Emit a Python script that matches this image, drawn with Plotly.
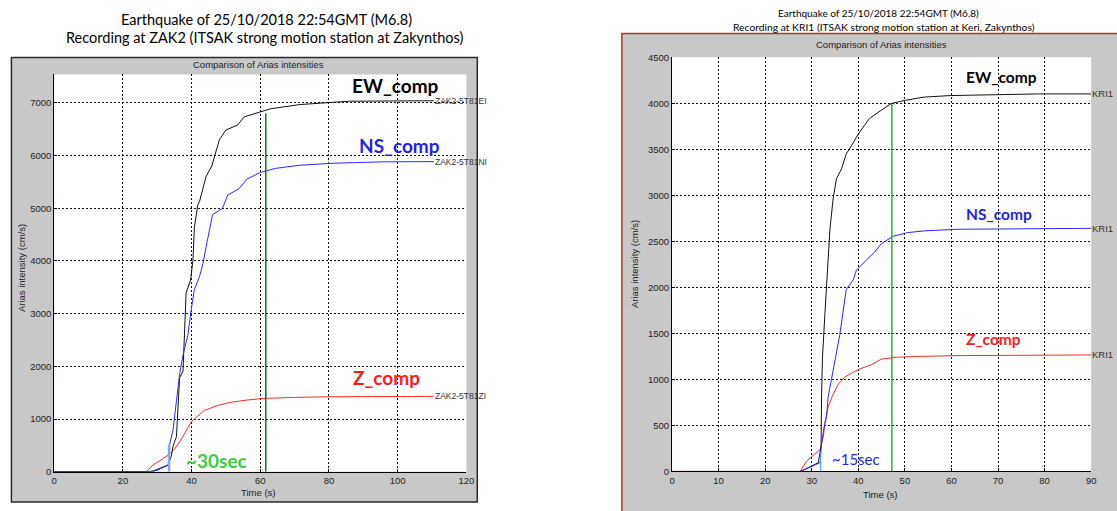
import plotly.graph_objects as go

W, H = 1117, 511

# ---- ZAK2 station: cumulative Arias intensity (cm/s) vs time (s) ----
zak_t_ew = [0, 27.5, 29.0, 31.0, 33.2, 34.1, 34.6, 35.6, 36.0, 36.5, 37.5, 38.0, 38.4, 39.7,
            40.4, 40.8, 41.8, 42.3, 44.2, 45.9, 46.9, 48.1, 50.0, 53.4, 55.3, 59.6, 63.0,
            71.6, 86.0, 110.5]
zak_v_ew = [0, 0, 20, 70, 130, 300, 483, 668, 1101, 1782, 1907, 2587, 3392, 3639,
            4010, 4629, 5063, 5124, 5600, 5806, 6053, 6300, 6485, 6578, 6734, 6827, 6888,
            6968, 7031, 7040]

zak_t_ns = [0, 28.5, 30.0, 33.2, 33.6, 34.6, 35.6, 36.5, 37.5, 38.9, 39.9, 40.8, 42.3, 43.3,
            44.2, 45.2, 46.1, 49.0, 50.5, 53.8, 56.2, 60.1, 64.4, 71.6, 81.2, 95.6, 110.5]
zak_v_ns = [0, 0, 30, 124, 514, 793, 1350, 1844, 2215, 2587, 3082, 3453, 3700, 3949,
            4257, 4567, 4877, 5000, 5249, 5371, 5557, 5681, 5756, 5817, 5854, 5880, 5885]

zak_t_z = [0, 26.9, 28.4, 33.2, 35.1, 37.5, 39.9, 43.7, 47.5, 51.4, 56.2, 61.0, 69.7, 81.2, 110.5]
zak_v_z = [0, 0, 111, 316, 433, 668, 947, 1164, 1257, 1318, 1361, 1392, 1411, 1424, 1430]

# time markers: [time, height]
zak_onset = [33.45, 520]
zak_end = [61.6, 6800]

zak_labels = ["ZAK2-5T81EI", "ZAK2-5T81NI", "ZAK2-5T81ZI"]

# ---- KRI1 station ----
kri_t_ew = [0, 27.7, 31.4, 32.0, 32.1, 32.3, 32.8, 33.5, 33.9, 34.6, 35.3, 36.4, 37.4, 38.9,
            39.9, 41.3, 42.4, 44.2, 47.0, 49.9, 54.1, 59.8, 68.3, 78.9, 90.0]
kri_v_ew = [0, 0, 96, 272, 805, 1231, 1691, 2223, 2630, 2968, 3181, 3290, 3450, 3571,
            3660, 3760, 3837, 3900, 3997, 4032, 4068, 4085, 4096, 4103, 4103]

kri_t_ns = [0, 27.5, 31.8, 32.1, 32.8, 33.2, 33.5, 34.3, 35.0, 36.0, 36.7, 37.4, 38.9, 39.6,
            41.7, 43.5, 44.9, 47.4, 50.6, 54.1, 61.2, 90.0]
kri_v_ns = [0, 0, 96, 309, 521, 593, 805, 1018, 1231, 1479, 1728, 1976, 2082, 2188,
            2295, 2383, 2472, 2555, 2596, 2614, 2632, 2642]

kri_t_z = [0, 27.5, 28.9, 31.8, 32.5, 32.8, 33.5, 34.6, 35.7, 37.1, 39.9, 42.8, 44.9, 48.1,
           52.0, 61.2, 90.0]
kri_v_z = [0, 0, 114, 238, 380, 521, 699, 840, 947, 1026, 1106, 1160, 1220, 1241,
           1249, 1259, 1266]

kri_onset = [31.9, 209]
kri_end = [47.2, 3997]

kri_label = "KRI1"

# tick values
zak_xticks = [0, 20, 40, 60, 80, 100, 120]
zak_yticks = [0, 1000, 2000, 3000, 4000, 5000, 6000, 7000]
kri_xticks = [0, 10, 20, 30, 40, 50, 60, 70, 80, 90]
kri_yticks = [0, 500, 1000, 1500, 2000, 2500, 3000, 3500, 4000, 4500]


def fx(p):
    return p / W


def fy(p):
    return 1 - p / H


AXFONT = dict(family="Liberation Sans, Arial, sans-serif", size=9.5, color="#222")
CAL = "Lato, Noto Sans, sans-serif"

fig = go.Figure()


def add_line(t, v, color, xa, ya, width=1):
    fig.add_trace(go.Scatter(x=t, y=v, mode="lines", line=dict(color=color, width=width),
                             xaxis=xa, yaxis=ya, showlegend=False, hoverinfo="skip"))


# left panel
add_line(zak_t_z, zak_v_z, "#ff2a2a", "x", "y")
add_line(zak_t_ew, zak_v_ew, "#111111", "x", "y")
add_line(zak_t_ns, zak_v_ns, "#2a2aff", "x", "y")
add_line([zak_onset[0]] * 2, [0, zak_onset[1]], "#7fa6ff", "x", "y", 2.5)
add_line([zak_end[0]] * 2, [0, zak_end[1]], "#0a7a0a", "x", "y", 1.5)

# right panel
add_line(kri_t_z, kri_v_z, "#ff2a2a", "x2", "y2")
add_line(kri_t_ew, kri_v_ew, "#111111", "x2", "y2")
add_line(kri_t_ns, kri_v_ns, "#2a2aff", "x2", "y2")
add_line([kri_onset[0]] * 2, [0, kri_onset[1]], "#5a9cff", "x2", "y2", 1.2)
add_line([kri_end[0]] * 2, [0, kri_end[1]], "#3aaa3a", "x2", "y2", 1.5)

grid = dict(showgrid=True, gridcolor="#111", griddash="2px,2px", gridwidth=1,
            showline=True, linecolor="#000", linewidth=1, zeroline=False,
            ticks="inside", ticklen=3, tickcolor="#000", tickfont=AXFONT, mirror=False)

fig.update_layout(
    width=W, height=H, margin=dict(l=0, r=0, t=0, b=0),
    paper_bgcolor="white", plot_bgcolor="white",
    xaxis=dict(domain=[fx(51.7), fx(468)], range=[0, 120], tickvals=zak_xticks,
               anchor="y", **grid),
    yaxis=dict(domain=[fy(476), fy(70)], range=[0, 7538], tickvals=zak_yticks,
               anchor="x", **grid),
    xaxis2=dict(domain=[fx(675.7), fx(1099)], range=[0, 90], tickvals=kri_xticks,
                anchor="y2", **grid),
    yaxis2=dict(domain=[fy(475.7), fy(52.5)], range=[0, 4500], tickvals=kri_yticks,
                anchor="x2", **grid),
)

# figure frames (grey MATLAB windows)
shapes = [
    dict(type="rect", xref="paper", yref="paper", x0=fx(8.5), x1=fx(479), y0=fy(507), y1=fy(52.7),
         fillcolor="#c8c8c8", line=dict(color="#2a2a2a", width=1.5), layer="below"),
    dict(type="rect", xref="paper", yref="paper", x0=fx(625), x1=fx(1130), y0=fy(530), y1=fy(28),
         fillcolor="#c8c8c8", line=dict(color="#b0352b", width=1.5), layer="below"),
    dict(type="rect", xref="paper", yref="paper", x0=fx(51.7), x1=fx(468), y0=fy(476), y1=fy(70),
         fillcolor="white", line=dict(width=0), layer="below"),
    dict(type="rect", xref="paper", yref="paper", x0=fx(675.7), x1=fx(1099), y0=fy(475.7), y1=fy(52.5),
         fillcolor="white", line=dict(width=0), layer="below"),
]
fig.update_layout(shapes=shapes)

ann = []


def text(x, y, s, size, color="#000", family=CAL, bold=False, angle=0, xanchor="center"):
    if bold:
        s = "<b>" + s + "</b>"
    ann.append(dict(x=fx(x), y=fy(y), xref="paper", yref="paper", text=s, showarrow=False,
                    xanchor=xanchor, yanchor="middle", textangle=angle,
                    font=dict(family=family, size=size, color=color)))


# slide titles
text(266, 14, "Earthquake of 25/10/2018 22:54GMT (M6.8)", 14.5)
text(265, 32, "Recording at ZAK2 (ITSAK strong motion station at Zakynthos)", 14.5)
text(884, 7, "Earthquake of 25/10/2018 22:54GMT (M6.8)", 10)
text(890, 21.5, "Recording at KRI1 (ITSAK strong motion station at Keri, Zakynthos)", 10.3)

# MATLAB axes titles
MF = "Liberation Sans, Arial, sans-serif"
text(258, 60, "Comparison of Arias intensities", 9.5, "#222", MF)
text(887, 39, "Comparison of Arias intensities", 9.5, "#222", MF)
text(258, 497, "Time (s)", 9.5, "#222", MF)
text(886, 499, "Time (s)", 9.5, "#222", MF)
text(18, 268, "Arias intensity (cm/s)", 9.5, "#222", MF, angle=-90)
text(638, 264, "Arias intensity (cm/s)", 9.5, "#222", MF, angle=-90)

# component labels
text(396, 81, "EW_comp", 19, "#000", bold=True)
text(400, 143, "NS_comp", 19, "#1f1fef", bold=True)
text(387, 380, "Z_comp", 19, "#ff1a1a", bold=True)
text(216, 464, "~30sec", 19, "#3ccc3c", bold=True)
text(1008, 73, "EW_comp", 15.5, "#000", bold=True)
text(1006, 213, "NS_comp", 15.5, "#1f1fef", bold=True)
text(1000, 340, "Z_comp", 15.5, "#ff1a1a", bold=True)
text(861, 463, "~15sec", 15, "#2424f0")

fig.update_layout(annotations=ann)

# channel tags at the end of each curve
for lab, t, v in zip(zak_labels, [zak_t_ew, zak_t_ns, zak_t_z], [zak_v_ew, zak_v_ns, zak_v_z]):
    fig.add_annotation(x=t[-1], y=v[-1], xref="x", yref="y", text=lab, showarrow=False,
                       xanchor="left", yanchor="middle", xshift=-1,
                       font=dict(family=MF, size=8.5, color="#333"))
for t, v in zip([kri_t_ew, kri_t_ns, kri_t_z], [kri_v_ew, kri_v_ns, kri_v_z]):
    fig.add_annotation(x=t[-1], y=v[-1], xref="x2", yref="y2", text=kri_label, showarrow=False,
                       xanchor="left", yanchor="middle", xshift=-1,
                       font=dict(family=MF, size=9.5, color="#333"))

fig.write_html("out.html")
